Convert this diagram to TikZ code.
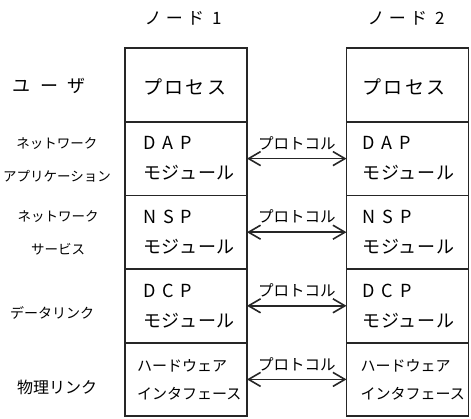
\documentclass[tikz,border=0pt]{standalone}
\usepackage{fontspec}
\setmainfont{Noto Sans CJK JP}
\usetikzlibrary{arrows.meta}
\begin{document}
\begin{tikzpicture}[x=1pt,y=-1pt,
  cell/.style={draw=black!85, line width=1.8pt, minimum width=122pt, minimum height=73.6pt, inner sep=0pt, outer sep=0pt},
  intext/.style={anchor=west, align=left, inner sep=0pt, font=\fontsize{18}{30}\selectfont\addfontfeature{LetterSpace=4}},
  hwtext/.style={anchor=west, align=left, inner sep=0pt, font=\fontsize{15}{28}\selectfont},
  layer/.style={align=center, inner sep=0pt, font=\fontsize{13.5}{33}\selectfont},
  head/.style={inner sep=0pt, font=\fontsize{17}{20}\selectfont\addfontfeature{LetterSpace=25}},
  proto/.style={{Straight Barb[length=12pt,width=14pt]}-{Straight Barb[length=12pt,width=14pt]}, line width=1.6pt, draw=black!85},
  plabel/.style={above=8pt, inner sep=0pt, font=\fontsize{15.5}{18}\selectfont}]
\useasboundingbox (0,0) rectangle (471,418);

% column headings
\node[head] (n1) at (183,18) {ノード 1};
\node[head] (n2) at (406,18) {ノード 2};

% cells
\node[cell] (L1) at (186,85) {};
\node[cell] (L2) at (186,158.6) {};
\node[cell] (L3) at (186,232.2) {};
\node[cell] (L4) at (186,305.8) {};
\node[cell] (L5) at (186,379.4) {};
\node[cell] (R1) at (407.5,85) {};
\node[cell] (R2) at (407.5,158.6) {};
\node[cell] (R3) at (407.5,232.2) {};
\node[cell] (R4) at (407.5,305.8) {};
\node[cell] (R5) at (407.5,379.4) {};

% cell texts
\node[intext, font=\fontsize{19}{30}\selectfont\addfontfeature{LetterSpace=12}] (L1t) at ([xshift=18pt,yshift=-2pt]L1.west) {プロセス};
\node[intext] (L2t) at ([xshift=18pt]L2.west) {\addfontfeature{LetterSpace=38}DAP\\モジュール};
\node[intext] (L3t) at ([xshift=18pt]L3.west) {\addfontfeature{LetterSpace=38}NSP\\モジュール};
\node[intext] (L4t) at ([xshift=18pt]L4.west) {\addfontfeature{LetterSpace=38}DCP\\モジュール};
\node[hwtext] (L5t) at ([xshift=12pt]L5.west) {ハードウェア\\インタフェース};
\node[intext, font=\fontsize{19}{30}\selectfont\addfontfeature{LetterSpace=12}] (R1t) at ([xshift=16pt,yshift=-2pt]R1.west) {プロセス};
\node[intext] (R2t) at ([xshift=16pt]R2.west) {\addfontfeature{LetterSpace=38}DAP\\モジュール};
\node[intext] (R3t) at ([xshift=16pt]R3.west) {\addfontfeature{LetterSpace=38}NSP\\モジュール};
\node[intext] (R4t) at ([xshift=16pt]R4.west) {\addfontfeature{LetterSpace=38}DCP\\モジュール};
\node[hwtext] (R5t) at ([xshift=14pt]R5.west) {ハードウェア\\インタフェース};

% layer labels
\node[layer, font=\fontsize{18}{20}\selectfont\addfontfeature{LetterSpace=55}] (u) at (49,86) {ユーザ};
\node[layer] (na) at (57,160) {ネットワーク\\アプリケーション};
\node[layer] (ns) at (58,233) {ネットワーク\\サービス};
\node[layer, font=\fontsize{14}{18}\selectfont] (dl) at (52,313) {データリンク};
\node[layer, font=\fontsize{16}{18}\selectfont] (pl) at (57,387) {物理リンク};

% protocol arrows
\draw[proto] (L2.east) -- node[plabel] (p2) {プロトコル} (R2.west);
\draw[proto] (L3.east) -- node[plabel] (p3) {プロトコル} (R3.west);
\draw[proto] (L4.east) -- node[plabel] (p4) {プロトコル} (R4.west);
\draw[proto] (L5.east) -- node[plabel] (p5) {プロトコル} (R5.west);
\end{tikzpicture}
\end{document}
